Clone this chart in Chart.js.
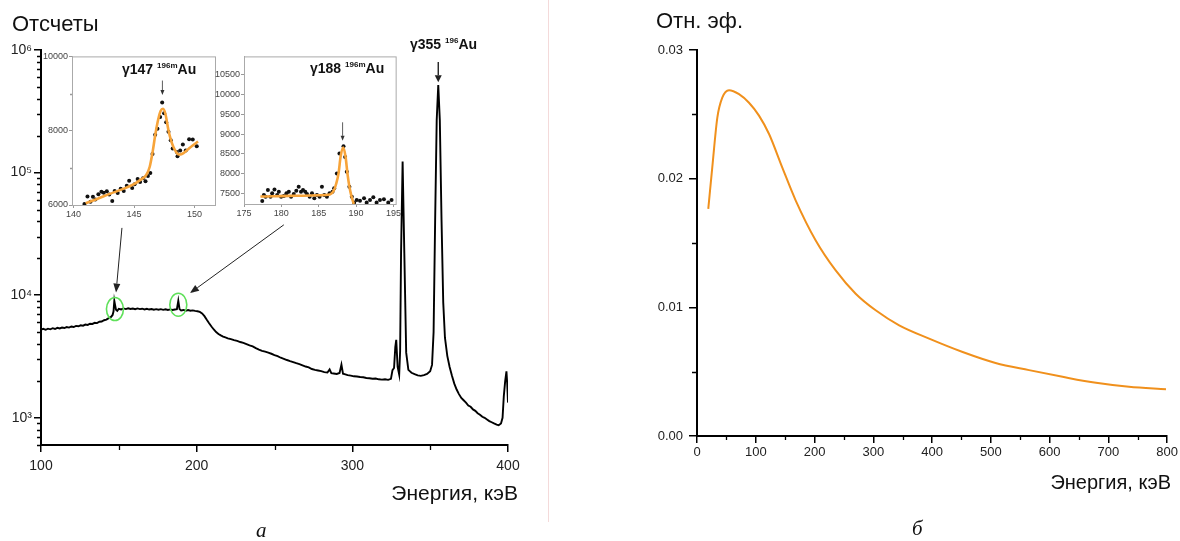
<!DOCTYPE html>
<html>
<head>
<meta charset="UTF-8">
<title>Спектр и относительная эффективность</title>
<script src="https://cdn.jsdelivr.net/npm/chart.js@4.4.0/dist/chart.umd.min.js"></script>
<style>
  body { margin: 0; background: #fff; font-family: "Liberation Sans", Arial, sans-serif; }
  #wrap { position: relative; width: 1180px; height: 541px; overflow: hidden; }
  canvas, .t { position: absolute; }
  .t { color: #111; white-space: nowrap; line-height: 1; }
  .peak { font-weight: bold; font-size: 14px; color: #111; }
  .peak sup { font-size: 8px; vertical-align: 6px; }
  .sub { font-family: "Liberation Serif", serif; font-style: italic; font-size: 21px; }
  #sep { position: absolute; left: 548px; top: 0; width: 1px; height: 522px; background: #f4dada; }
</style>
</head>
<body>
<div id="wrap">
  <div id="sep"></div>
  <canvas id="spectrum" width="530" height="541" style="left:0;top:0"></canvas>
  <canvas id="inset147" width="182" height="172" style="left:40px;top:50px"></canvas>
  <canvas id="inset188" width="190" height="172" style="left:212px;top:50px"></canvas>
  <canvas id="eff" width="620" height="541" style="left:560px;top:0"></canvas>

  <div class="t" style="left:12px;top:13px;font-size:22px">Отсчеты</div>
  <div class="t" style="right:662px;top:482px;font-size:21px">Энергия, кэВ</div>
  <div class="t sub" style="left:256px;top:520px">а</div>
  <div class="t peak" style="left:122px;top:62px">γ147 <sup>196m</sup>Au</div>
  <div class="t peak" style="left:310px;top:61px">γ188 <sup>196m</sup>Au</div>
  <div class="t peak" style="left:410px;top:37px">γ355 <sup>196</sup>Au</div>

  <div class="t" style="left:656px;top:10px;font-size:22px">Отн. эф.</div>
  <div class="t" style="right:9px;top:472px;font-size:20px">Энергия, кэВ</div>
  <div class="t sub" style="left:912px;top:518px">б</div>
</div>

<script>
// ---- spectrum (panel a) ----
const spectrumE = [100, 101.5, 103, 104.5, 106, 107.5, 109, 110.5, 112, 113.5, 115, 116.5, 118, 119.5, 121, 122.5, 124, 125.5, 127, 128.5,
  130, 131.5, 133, 134.5, 136, 137.5, 139, 140.5, 142, 143.5, 145, 146, 146.6, 147.1, 147.6, 148.2, 149, 150, 151.5, 153,
  154.5, 156, 157.5, 159, 160.5, 162, 163.5, 165, 166.5, 168, 169.5, 171, 172.5, 174, 175.5, 177, 178.5, 180, 181.5, 183,
  184.5, 186, 187.3, 188.2, 189, 190, 191.5, 193, 194.5, 196, 197.5, 199, 200.5, 202, 203.5, 205, 206.5, 208, 209.5, 211,
  212.5, 214, 215.5, 217, 218.5, 220, 222, 224, 226, 228, 230, 232, 234, 236, 238, 240, 242, 244, 246, 248,
  250, 252, 254, 256, 258, 260, 262, 264, 266, 268, 270, 272, 274, 276, 278, 280, 282, 284, 285.4, 286.5,
  288, 290, 291.8, 293, 294, 295.5, 297, 299, 301, 303, 305, 307, 309, 311, 313, 315, 317, 319, 321, 323,
  324.8, 325.8, 326.8, 327.6, 328.2, 329.1, 330.1, 330.7, 331.3, 332.3, 333.4, 334.6, 336, 338, 340, 342, 344, 346, 348, 350,
  351.2, 352.2, 353.2, 354.2, 355.2, 356.2, 357.3, 358.4, 359.5, 361, 362.5, 364, 365.5, 367, 368.5, 370, 371.5, 373, 374.5, 376,
  377.5, 379, 380.5, 382, 383.5, 385, 386.5, 388, 389.5, 391, 392.7, 394, 395.5, 396.5, 397.3, 398.2, 399, 399.5, 400];
const spectrumCounts = [5250, 5320, 5220, 5330, 5270, 5380, 5300, 5420, 5360, 5450, 5400, 5500, 5440, 5560, 5500, 5620, 5580, 5680, 5640, 5760,
  5720, 5850, 5830, 5950, 5920, 6080, 6100, 6250, 6320, 6500, 6650, 6900, 7400, 9000, 8300, 7600, 7450, 7750, 7650, 7800,
  7700, 7820, 7720, 7790, 7680, 7800, 7700, 7760, 7660, 7750, 7640, 7720, 7620, 7700, 7610, 7690, 7600, 7670, 7580, 7660,
  7570, 7640, 7700, 9000, 7700, 7520, 7580, 7480, 7560, 7470, 7520, 7450, 7400, 7300, 7100, 6750, 6300, 5900, 5550, 5250,
  5000, 4830, 4700, 4600, 4520, 4450, 4380, 4300, 4240, 4150, 4080, 3990, 3900, 3820, 3700, 3600, 3520, 3460, 3400, 3330,
  3250, 3180, 3090, 3030, 2960, 2900, 2850, 2790, 2740, 2680, 2620, 2580, 2500, 2460, 2430, 2400, 2360, 2340, 2480, 2310,
  2300, 2280, 2320, 2710, 2290, 2260, 2230, 2210, 2180, 2170, 2150, 2140, 2110, 2100, 2080, 2090, 2060, 2050, 2060, 2040,
  2080, 2450, 2550, 3780, 4330, 2600, 2250, 3500, 22000, 123000, 22000, 3400, 2460, 2330, 2270, 2220, 2200, 2230, 2280, 2400,
  2700, 5000, 41000, 268000, 519000, 268000, 41000, 8700, 4500, 3200, 2600, 2200, 1900, 1700, 1560, 1450, 1390, 1330, 1260, 1230,
  1170, 1140, 1090, 1060, 1020, 1000, 970, 940, 920, 900, 880, 870, 900, 1000, 1500, 2000, 2390, 1900, 1330];
const spectrumXTicks = [100, 200, 300, 400];
const countTickValues = [1e3, 1e4, 1e5, 1e6];
const countTickLabels = ['10³', '10⁴', '10⁵', '10⁶'];

// ---- inset: 147 keV ----
const peak147E = [140.9, 141.15, 141.4, 141.6, 141.8, 142.05, 142.3, 142.5, 142.75, 142.95, 143.2, 143.4, 143.65, 143.9, 144.15,
  144.4, 144.6, 144.85, 145.05, 145.3, 145.5, 145.75, 145.95, 146.15, 146.35, 146.53, 146.75, 146.94, 147.16, 147.33,
  147.49, 147.66, 147.85, 148.04, 148.2, 148.54, 148.6, 148.82, 149.04, 149.28, 149.56, 149.86, 150.19];
const peak147Counts = [6030, 6230, 6090, 6220, 6150, 6290, 6360, 6330, 6370, 6280, 6110, 6380, 6320, 6440, 6380,
  6520, 6650, 6460, 6560, 6700, 6620, 6720, 6640, 6780, 6860, 7370, 7890, 8050, 8370, 8760,
  8470, 8230, 7970, 7740, 7520, 7430, 7310, 7470, 7630, 7470, 7770, 7760, 7580];
const fit147E = [141.0, 142.0, 143.0, 144.0, 145.0, 145.5, 146.0, 146.3, 146.55, 146.75, 147.0, 147.2, 147.4, 147.6, 147.85, 148.05, 148.26, 148.5, 148.7, 149.0, 149.4, 149.8, 150.3];
const fit147Counts = [6045, 6170, 6300, 6420, 6560, 6670, 6800, 7030, 7450, 7870, 8300, 8530, 8590, 8450, 8010, 7750, 7560, 7420, 7360, 7380, 7480, 7590, 7710];
const inset147XTicks = [140, 145, 150];
const inset147YTicks = [6000, 8000, 10000];

// ---- inset: 188 keV ----
const peak188E = [177.44, 177.66, 177.89, 178.2, 178.55, 178.77, 179.08, 179.44, 179.66, 179.97, 180.33, 180.68, 181.0, 181.3, 181.66,
  182.0, 182.32, 182.63, 182.9, 183.2, 183.43, 183.79, 184.1, 184.41, 184.76, 185.12, 185.43, 185.74, 186.1, 186.45,
  186.85, 187.07, 187.43, 187.78, 188.32, 188.54, 188.76, 189.11, 189.43, 189.74, 190.09, 190.53, 191.07, 191.42, 191.87,
  192.31, 192.75, 193.2, 193.73, 194.31, 194.75];
const peak188Counts = [7307, 7458, 7416, 7584, 7416, 7500, 7600, 7458, 7542, 7416, 7433, 7500, 7542, 7416, 7483,
  7567, 7668, 7542, 7584, 7542, 7483, 7416, 7500, 7374, 7458, 7416, 7668, 7458, 7416, 7500,
  7542, 7626, 8004, 8508, 8693, 8424, 8046, 7668, 7416, 7265, 7332, 7315, 7374, 7265, 7332,
  7399, 7265, 7332, 7349, 7265, 7332];
const fit188E = [177.2, 179, 181, 183, 185, 186.5, 187.0, 187.35, 187.65, 187.95, 188.3, 188.6, 188.85, 189.1, 189.4, 189.7];
const fit188Counts = [7420, 7425, 7435, 7440, 7450, 7470, 7560, 7750, 8000, 8450, 8660, 8420, 8000, 7680, 7416, 7230];
const inset188XTicks = [175, 180, 185, 190, 195];
const inset188YTicks = [7500, 8000, 8500, 9000, 9500, 10000, 10500];

// ---- efficiency (panel b) ----
const effE = [19.2, 26, 34.6, 43, 54.5, 71.5, 88.5, 105.5, 122.6, 145, 168, 202, 236, 270, 304, 344, 395, 452, 508, 565, 622, 679, 735, 798];
const effValues = [0.01765, 0.02088, 0.02475, 0.0263, 0.02688, 0.02657, 0.0259, 0.0249, 0.02347, 0.02088, 0.0183, 0.0152, 0.01287,
  0.01106, 0.00977, 0.0086, 0.00757, 0.00653, 0.00568, 0.00512, 0.0046, 0.00413, 0.00382, 0.00364];
const effXTicks = [0, 100, 200, 300, 400, 500, 600, 700, 800];
const effYTicks = [0, 0.01, 0.02, 0.03];
const effYTickLabels = ['0.00', '0.01', '0.02', '0.03'];

// annotations in data coordinates
const bigArrows = [[152, 35400, 148.2, 10500], [256, 37500, 195.7, 10400]];
const markRings = [[147.5, 7710], [188.2, 8360]];
const arrow355 = [355.2, 800000, 355.2, 545000];

Chart.defaults.font.family = '"Liberation Sans", Arial, sans-serif';

const xy = (xs, ys) => xs.map((x, i) => ({ x: x, y: ys[i] }));

function arrow(c, x1, y1, x2, y2, head, half) {
  const a = Math.atan2(y2 - y1, x2 - x1), ca = Math.cos(a), sa = Math.sin(a);
  c.beginPath(); c.moveTo(x1, y1); c.lineTo(x2 - head * ca, y2 - head * sa); c.stroke();
  c.beginPath(); c.moveTo(x2, y2);
  c.lineTo(x2 - head * ca + half * sa, y2 - head * sa - half * ca);
  c.lineTo(x2 - head * ca - half * sa, y2 - head * sa + half * ca);
  c.closePath(); c.fill();
}

function minorTicks(chart, id, values, len, color) {
  const s = chart.scales[id], c = chart.ctx;
  c.save(); c.strokeStyle = color; c.lineWidth = 1.3; c.beginPath();
  values.forEach(v => {
    const p = Math.round(s.getPixelForValue(v)) + 0.5;
    if (s.isHorizontal()) { c.moveTo(p, s.top); c.lineTo(p, s.top + len); }
    else { c.moveTo(s.right, p); c.lineTo(s.right - len, p); }
  });
  c.stroke(); c.restore();
}

function fixedTicks(values) {
  return s => { s.ticks = values.map(v => ({ value: v })); };
}

function mainAxis(extra, tickLen) {
  return Object.assign({
    grid: { drawOnChartArea: false, tickLength: tickLen || 7, color: '#000', lineWidth: 1.5 },
    border: { color: '#000', width: 2 }
  }, extra);
}

const baseOpts = {
  responsive: false, animation: false, events: [],
  plugins: { legend: { display: false }, tooltip: { enabled: false } }
};

// ---- panel a ----
const spectrumMinorY = [];
[100, 1000, 10000, 100000].forEach(d => { for (let k = 2; k <= 9; k++) if (d * k >= 600) spectrumMinorY.push(d * k); });

new Chart(document.getElementById('spectrum'), {
  type: 'line',
  data: { datasets: [{ data: xy(spectrumE, spectrumCounts), borderColor: '#000', borderWidth: 1.9, pointRadius: 0, tension: 0 }] },
  options: Object.assign({}, baseOpts, {
    layout: { padding: { top: 50, right: 22, left: 0, bottom: 0 } },
    scales: {
      x: mainAxis({ type: 'linear', min: 100, max: 400, afterFit: s => { s.height = 96; },
        afterBuildTicks: fixedTicks(spectrumXTicks),
        ticks: { font: { size: 14 }, color: '#222', padding: 6, maxRotation: 0, autoSkip: false } }),
      y: mainAxis({ type: 'logarithmic', min: 600, max: 1e6, afterFit: s => { s.width = 41; },
        afterBuildTicks: fixedTicks(countTickValues),
        ticks: { font: { size: 14 }, color: '#222', padding: 2, autoSkip: false,
          callback: (v, i) => countTickLabels[i] } })
    }
  }),
  plugins: [{
    id: 'spectrumDecor',
    afterDraw(chart) {
      const c = chart.ctx, x = chart.scales.x, y = chart.scales.y;
      minorTicks(chart, 'x', [150, 250, 350], 5, '#000');
      minorTicks(chart, 'y', spectrumMinorY, 4, '#000');
      c.save();
      c.strokeStyle = '#222'; c.fillStyle = '#222'; c.lineWidth = 1;
      bigArrows.forEach(a => arrow(c, x.getPixelForValue(a[0]), y.getPixelForValue(a[1]),
        x.getPixelForValue(a[2]), y.getPixelForValue(a[3]), 9, 3.5));
      c.lineWidth = 1.4;
      arrow(c, x.getPixelForValue(arrow355[0]), y.getPixelForValue(arrow355[1]),
        x.getPixelForValue(arrow355[2]), y.getPixelForValue(arrow355[3]), 7, 3.5);
      c.strokeStyle = '#5fe05a'; c.lineWidth = 1.6;
      markRings.forEach(r => {
        c.beginPath();
        c.ellipse(x.getPixelForValue(r[0]), y.getPixelForValue(r[1]), 8.5, 11.5, 0, 0, Math.PI * 2);
        c.stroke();
      });
      c.restore();
    }
  }]
});

// ---- insets ----
function insetChart(id, dotsE, dotsC, fitE, fitC, xr, yr, xt, yt, minorY, arrowAt, area) {
  new Chart(document.getElementById(id), {
    type: 'line',
    data: { datasets: [
      { data: xy(fitE, fitC), borderColor: '#f7a43a', borderWidth: 2.6, pointRadius: 0, cubicInterpolationMode: 'monotone' },
      { data: xy(dotsE, dotsC), showLine: false, pointRadius: 2, pointBackgroundColor: '#111', pointBorderWidth: 0 }
    ] },
    options: Object.assign({}, baseOpts, {
      layout: { padding: { top: 6, right: area.right, left: 0, bottom: 0 } },
      scales: {
        x: { type: 'linear', min: xr[0], max: xr[1], afterFit: s => { s.height = area.xh; },
          afterBuildTicks: fixedTicks(xt),
          ticks: { font: { size: 9 }, color: '#444', padding: 1, maxRotation: 0, autoSkip: false },
          grid: { drawOnChartArea: false, tickLength: 3, color: '#999' }, border: { color: '#aaa', width: 1 } },
        y: { type: 'linear', min: yr[0], max: yr[1], afterFit: s => { s.width = 32; },
          afterBuildTicks: fixedTicks(yt),
          ticks: { font: { size: 9 }, color: '#444', padding: 1, autoSkip: false, callback: v => String(v) },
          grid: { drawOnChartArea: false, tickLength: 3, color: '#999' }, border: { color: '#aaa', width: 1 } }
      }
    }),
    plugins: [{
      id: id + 'Decor',
      beforeDraw(chart) {
        const a = chart.chartArea, c = chart.ctx;
        c.save(); c.fillStyle = '#fff'; c.fillRect(a.left, a.top, a.right - a.left, a.bottom - a.top); c.restore();
      },
      afterDraw(chart) {
        const a = chart.chartArea, c = chart.ctx, x = chart.scales.x, y = chart.scales.y;
        minorTicks(chart, 'y', minorY, 2, '#999');
        c.save();
        c.strokeStyle = '#aaa'; c.lineWidth = 1;
        c.strokeRect(a.left + 0.5, a.top + 0.5, a.right - a.left, a.bottom - a.top);
        c.strokeStyle = '#333'; c.fillStyle = '#333'; c.lineWidth = 0.8;
        arrow(c, x.getPixelForValue(arrowAt[0]), y.getPixelForValue(arrowAt[1]),
          x.getPixelForValue(arrowAt[0]), y.getPixelForValue(arrowAt[2]), 5, 2);
        c.restore();
      }
    }]
  });
}

insetChart('inset147', peak147E, peak147Counts, fit147E, fit147Counts, [139.87, 151.7], [6000, 10000],
  inset147XTicks, inset147YTicks, [7000, 9000], [147.35, 9350, 8960], { right: 7, xh: 17 });
insetChart('inset188', peak188E, peak188Counts, fit188E, fit188Counts, [175, 195.3], [7230, 10970],
  inset188XTicks, inset188YTicks, [], [188.2, 9300, 8830], { right: 6, xh: 18 });

// ---- panel b ----
new Chart(document.getElementById('eff'), {
  type: 'line',
  data: { datasets: [{ data: xy(effE, effValues), borderColor: '#f0901c', borderWidth: 2, pointRadius: 0, cubicInterpolationMode: 'monotone' }] },
  options: Object.assign({}, baseOpts, {
    layout: { padding: { top: 50, right: 12, left: 0, bottom: 0 } },
    scales: {
      x: mainAxis({ type: 'linear', min: 0, max: 800, afterFit: s => { s.height = 105; },
        afterBuildTicks: fixedTicks(effXTicks),
        ticks: { font: { size: 13 }, color: '#222', padding: 2, maxRotation: 0, autoSkip: false } }),
      y: mainAxis({ type: 'linear', min: 0, max: 0.03, afterFit: s => { s.width = 137; },
        afterBuildTicks: fixedTicks(effYTicks),
        ticks: { font: { size: 13 }, color: '#222', padding: 6, autoSkip: false, callback: (v, i) => effYTickLabels[i] } }, 8)
    }
  }),
  plugins: [{
    id: 'effDecor',
    afterDraw(chart) {
      minorTicks(chart, 'x', [50, 150, 250, 350, 450, 550, 650, 750], 4, '#000');
      minorTicks(chart, 'y', [0.005, 0.015, 0.025], 5, '#000');
    }
  }]
});
</script>
</body>
</html>
